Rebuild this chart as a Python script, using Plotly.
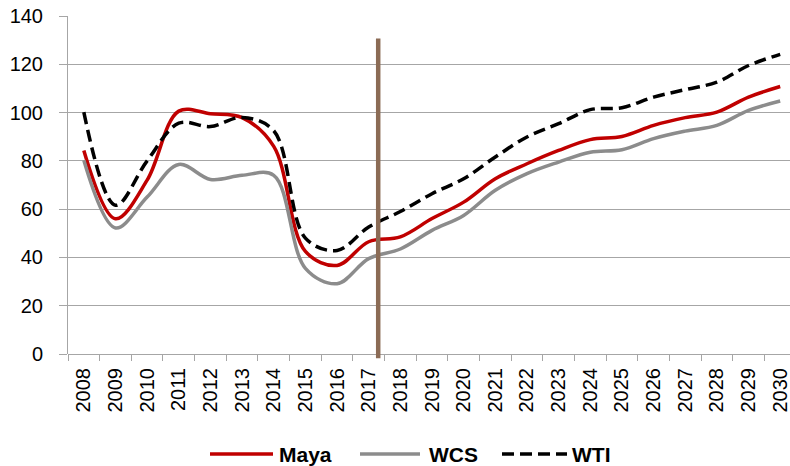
import plotly.graph_objects as go

years = [str(y) for y in range(2008, 2031)]
maya = [84.3, 56.0, 72.0, 100.6, 99.5, 97.9, 86.0, 42.5, 36.7, 46.5, 48.5, 56.1, 62.9, 72.6, 78.8, 84.3, 88.8, 90.1, 94.7, 97.9, 100.2, 106.4, 110.8]
wcs = [80.2, 52.2, 65.0, 78.5, 72.3, 74.0, 74.0, 35.5, 29.1, 39.5, 43.5, 51.2, 57.4, 67.8, 74.7, 79.5, 83.6, 84.6, 89.2, 92.3, 94.7, 100.9, 104.8]
wti = [100.2, 61.6, 80.0, 95.6, 94.2, 98.0, 92.5, 48.0, 42.9, 52.6, 59.0, 66.4, 72.6, 81.6, 89.9, 95.4, 101.2, 102.0, 106.4, 109.5, 112.6, 119.5, 124.1]
y_ticks = [0, 20, 40, 60, 80, 100, 120, 140]
series_names = ["Maya", "WCS", "WTI"]
forecast_marker_x = 9.3          # between 2017 and 2018 (category index)
forecast_marker_y = [-1.8, 130.7]

FONT = "Liberation Sans, Arial, sans-serif"
GRID = "#a6a6a6"
W, H = 790, 466
ML, MR, MT, MB = 68, 0, 16, 112

colors = ["#c00000", "#8c8c8c", "#000000"]
dashes = ["solid", "solid", "12px,6px"]
series = [maya, wcs, wti]

fig = go.Figure()
for name, vals, col, dsh in zip(series_names, series, colors, dashes):
    fig.add_trace(go.Scatter(x=years, y=vals, name=name, mode="lines", showlegend=False,
                             line=dict(color=col, width=3.5, dash=dsh,
                                       shape="spline", smoothing=1)))

ymin, ymax = y_ticks[0], y_ticks[-1]
fig.add_shape(type="line", xref="x", yref="paper",
              x0=forecast_marker_x, x1=forecast_marker_x,
              y0=(forecast_marker_y[0] - ymin) / (ymax - ymin),
              y1=(forecast_marker_y[1] - ymin) / (ymax - ymin),
              line=dict(color="#8b6b55", width=4.5), layer="above")

# legend drawn below the plot (pixel layout converted to paper coordinates)
def px_x(p):
    return (p - ML) / (W - ML - MR)

def px_y(p):
    return (H - MB - p) / (H - MT - MB)

legend_items = [(210, 273, 277), (360, 420, 427), (502, 567, 570)]
legend_y = 454
for (x0, x1, tx), name, col, dsh in zip(legend_items, series_names, colors, dashes):
    fig.add_shape(type="line", xref="paper", yref="paper",
                  x0=px_x(x0), x1=px_x(x1), y0=px_y(legend_y), y1=px_y(legend_y),
                  line=dict(color=col, width=3.5, dash=dsh))
    fig.add_annotation(xref="paper", yref="paper", x=px_x(tx), y=px_y(legend_y),
                       xanchor="left", yanchor="middle", showarrow=False,
                       text="<b>" + name + "</b>",
                       font=dict(family=FONT, size=21, color="#000000"))

fig.update_layout(
    width=W, height=H,
    margin=dict(l=ML, r=MR, t=MT, b=MB, autoexpand=False),
    paper_bgcolor="white", plot_bgcolor="white",
    font=dict(family=FONT, size=20, color="#000000"),
    showlegend=False,
)
fig.update_xaxes(type="category", range=[-0.5, 22.31], automargin=False,
                 tickangle=-90, tickson="boundaries", ticks="outside", ticklen=6,
                 tickcolor=GRID, showgrid=False, showline=False, zeroline=False,
                 tickfont=dict(family=FONT, size=20, color="#000000"),
                 ticklabelstandoff=9)
fig.update_yaxes(range=[ymin, ymax], tickvals=y_ticks, ticks="outside", ticklen=8,
                 automargin=False,
                 tickcolor=GRID, showgrid=True, gridcolor=GRID, gridwidth=1,
                 showline=True, linecolor=GRID, linewidth=1, zeroline=True,
                 zerolinecolor=GRID, zerolinewidth=1,
                 tickfont=dict(family=FONT, size=20, color="#000000"),
                 ticklabelstandoff=12)

fig.write_html("out.html", config={"displayModeBar": False},
               post_script="document.body.style.margin='0px';")
